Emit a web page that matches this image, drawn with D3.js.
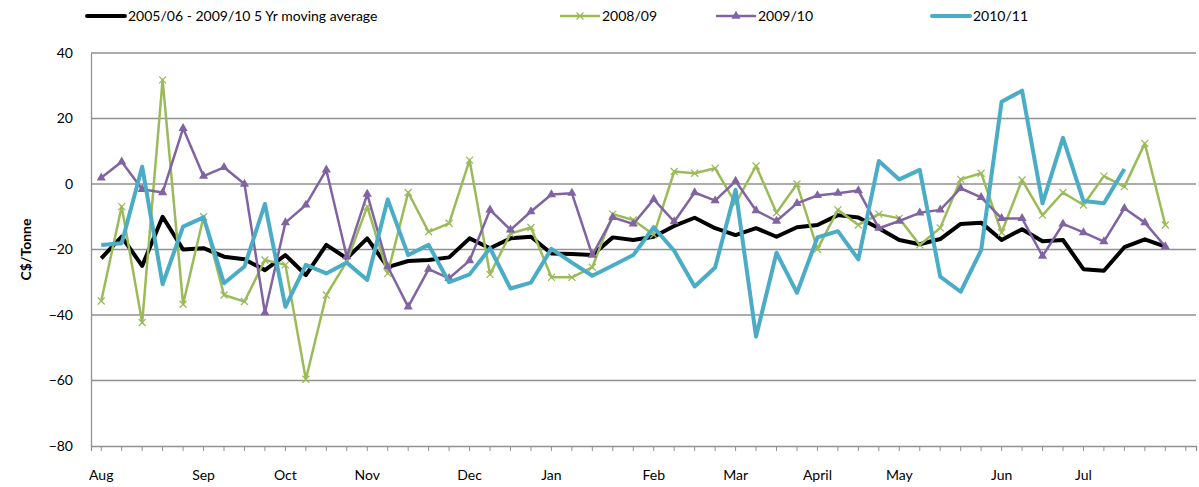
<!DOCTYPE html>
<html>
<head>
<meta charset="utf-8">
<script src="https://cdn.jsdelivr.net/npm/d3@7"></script>
<style>
	body { margin: 0; background: #fff; }
	svg { font-family: Lato, 'Open Sans', sans-serif; }
</style>
</head>
<body>
<div class="chart"></div>
<script>
const months = ['Aug', 'Sep', 'Oct', 'Nov', 'Dec', 'Jan', 'Feb', 'Mar', 'April', 'May', 'Jun', 'Jul']
const monthWeek = [0, 5, 9, 13, 18, 22, 27, 31, 35, 39, 44, 48]
const yTicks = [40, 20, 0, -20, -40, -60, -80]
const weekCount = 54

const avg5yr = [-22.7, -16.1, -25, -10, -20, -19.6, -22.2, -23, -26.3, -21.7, -27.8, -18.6, -22.7, -16.6,
	-25.4, -23.5, -23.2, -22.4, -16.6, -19.6, -16.6, -16.1, -21.2, -21.4, -21.7, -16.3, -17.1, -16.1,
	-12.8, -10.3, -13.5, -15.6, -13.5, -16.1, -13.2, -12.5, -9.5, -10.2, -13.5, -17.1, -18.4, -16.8,
	-12.2, -11.8, -17.1, -13.8, -17.5, -17.1, -26, -26.5, -19.3, -16.9, -19.1]
const y0809 = [-35.7, -6.9, -42.3, 31.8, -36.7, -10, -33.9, -35.9, -23.2, -24.7, -59.6, -33.9, -23.7, -6.9,
	-27.3, -2.6, -14.6, -12, 7.3, -27.6, -15.1, -13.3, -28.5, -28.5, -25.4, -9.2, -11, -15.5,
	3.8, 3.3, 4.8, -5.9, 5.5, -8.8, 0, -19.9, -7.9, -12.5, -9.2, -10.5, -18.6, -13.4,
	1.4, 3.3, -14.8, 1.2, -9.5, -2.6, -6.4, 2.4, -0.8, 12.4, -12.5]
const y0910 = [1.9, 6.8, -1.6, -2.6, 17, 2.4, 5.1, 0, -39.3, -11.8, -6.4, 4.3, -22.2, -3.1,
	-25.2, -37.5, -26, -28.8, -23.4, -7.9, -14, -8.4, -3.2, -2.8, -21.7, -10.2, -12.2, -4.7,
	-11.5, -2.6, -5.1, 0.9, -8.1, -11.3, -5.9, -3.5, -2.8, -2, -13.5, -11.3, -8.8, -7.9,
	-1.3, -4.1, -10.5, -10.5, -22, -12.2, -14.8, -17.6, -7.4, -11.8, -19.1]
const y1011 = [-18.6, -18.1, 5.3, -30.6, -13, -10.2, -30.3, -25.2, -6.1, -37.5, -24.7, -27.3, -24, -29.3,
	-4.7, -21.7, -18.6, -30, -27.6, -19.6, -31.9, -30.1, -19.8, -24, -28, -24.9, -21.7, -13.2,
	-20.4, -31.3, -25.5, -1.8, -46.6, -21, -33.2, -16.3, -14.4, -23, 7, 1.4, 4.3, -28.3,
	-32.9, -20.2, 25.1, 28.5, -5.9, 14.1, -5.2, -5.9, 4.6]

const series = [
	{ name: '2005/06 - 2009/10 5 Yr moving average', values: avg5yr, color: '#000000', width: 4, marker: null },
	{ name: '2008/09', values: y0809, color: '#9BBB59', width: 2.5, marker: 'x' },
	{ name: '2009/10', values: y0910, color: '#8064A2', width: 2.5, marker: 'tri' },
	{ name: '2010/11', values: y1011, color: '#4BACC6', width: 4, marker: null },
]

const width = 1199
const height = 487
const plot = { left: 91, right: 1196, top: 53, bottom: 446 }
const fontSize = 14

const svg = d3.select('.chart').append('svg')
	.attr('width', width)
	.attr('height', height)

const x = d3.scaleBand()
	.domain(d3.range(weekCount))
	.range([plot.left, plot.right])
const xc = i => x(i) + x.bandwidth() / 2

const y = d3.scaleLinear()
	.domain([-80, 40])
	.range([plot.bottom, plot.top])

// gridlines
svg.append('g')
	.selectAll('line')
	.data(yTicks.filter(d => d !== -80))
	.enter().append('line')
		.attr('x1', plot.left)
		.attr('x2', plot.right)
		.attr('y1', d => y(d))
		.attr('y2', d => y(d))
		.attr('stroke', '#919191')
		.attr('stroke-width', 1.3)

// y axis
const yAxis = svg.append('g')
	.attr('transform', `translate(${plot.left},0)`)
	.call(d3.axisLeft(y).tickValues(yTicks).tickSize(0).tickPadding(18))
yAxis.select('.domain').attr('stroke', '#919191').attr('stroke-width', 1.3)
yAxis.selectAll('text').attr('font-size', fontSize).attr('fill', '#000').attr('font-family', 'Lato')

// x axis
const xAxis = svg.append('g')
	.attr('transform', `translate(0,${plot.bottom})`)
	.call(d3.axisBottom(x).tickValues(d3.range(weekCount)).tickSize(5).tickFormat(''))
xAxis.select('.domain').attr('stroke', '#919191').attr('stroke-width', 1.3)
xAxis.selectAll('.tick line').attr('stroke', '#919191')

svg.append('g')
	.selectAll('text')
	.data(months)
	.enter().append('text')
		.attr('x', (d, i) => xc(monthWeek[i]))
		.attr('y', 480)
		.attr('text-anchor', 'middle')
		.attr('font-size', fontSize)
		.text(d => d)

svg.append('text')
	.attr('transform', `translate(31,${y(-20)}) rotate(-90)`)
	.attr('text-anchor', 'middle')
	.attr('font-size', fontSize)
	.attr('font-weight', 'bold')
	.text('C$/Tonne')

const line = d3.line()
	.x((d, i) => xc(i))
	.y(d => y(d))

function drawMarker(g, type, color, size) {
	if (type === 'x') {
		g.append('path')
			.attr('d', `M${-size},${-size}L${size},${size}M${-size},${size}L${size},${-size}`)
			.attr('stroke', color)
			.attr('stroke-width', 1.3)
	} else if (type === 'tri') {
		g.append('path')
			.attr('d', d3.symbol().type(d3.symbolTriangle).size(size * size * 3)())
			.attr('fill', color)
	}
}

series.forEach(s => {
	const g = svg.append('g')
	g.append('path')
		.datum(s.values)
		.attr('d', line)
		.attr('fill', 'none')
		.attr('stroke', s.color)
		.attr('stroke-width', s.width)
		.attr('stroke-linejoin', 'round')
	if (s.marker) {
		s.values.forEach((v, i) => {
			const m = g.append('g').attr('transform', `translate(${xc(i)},${y(v)})`)
			drawMarker(m, s.marker, s.color, 3.5)
		})
	}
})

// legend
const legendX = [87, 561, 717, 932]
const legend = svg.append('g')
series.forEach((s, i) => {
	const g = legend.append('g').attr('transform', `translate(${legendX[i]},16)`)
	g.append('line')
		.attr('x1', 0).attr('x2', 38)
		.attr('stroke', s.color)
		.attr('stroke-width', s.width)
		.attr('stroke-linecap', 'round')
	if (s.marker) {
		const m = g.append('g').attr('transform', 'translate(19,0)')
		drawMarker(m, s.marker, s.color, 3.5)
	}
	g.append('text')
		.attr('x', 41)
		.attr('dy', '0.35em')
		.attr('font-size', fontSize)
		.text(s.name)
})
</script>
</body>
</html>
